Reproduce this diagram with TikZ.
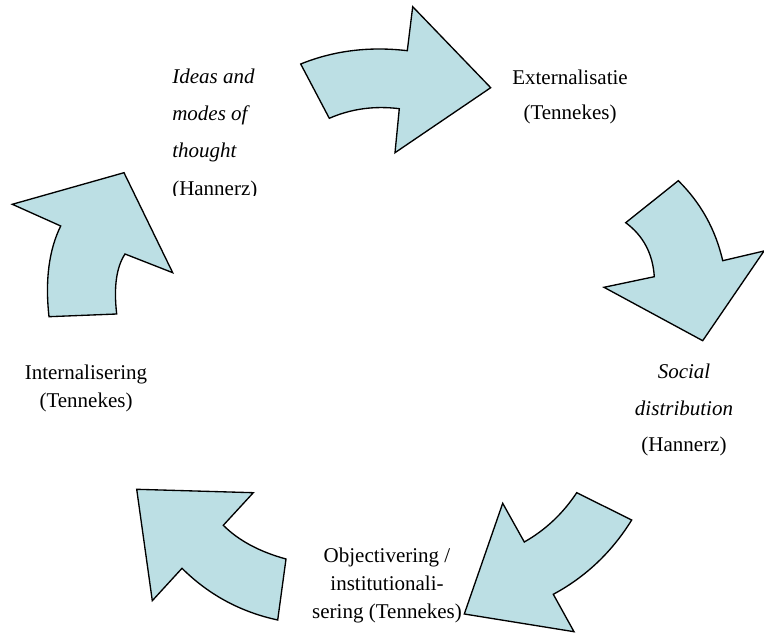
\documentclass[tikz,border=0pt]{standalone}
\usepackage{fontspec}
\setmainfont{Liberation Serif}
\definecolor{arrowfill}{RGB}{188,223,228}
\begin{document}
\begin{tikzpicture}[x=0.75pt,y=-0.75pt,
  blockarrow/.style={draw=black,fill=arrowfill,line width=1pt,line join=miter},
  lbl/.style={inner sep=0pt,align=center},
  f1/.style={font=\fontsize{15.75}{26.25}\selectfont},
  f2/.style={font=\fontsize{15.75}{27.5}\selectfont},
  f3/.style={font=\fontsize{15.75}{21}\selectfont},
  f4/.style={font=\fontsize{15.75}{20.5}\selectfont},
  f5/.style={font=\fontsize{15.75}{28}\selectfont}]
\useasboundingbox (0,0) rectangle (764,634);
% top arrow
\draw[blockarrow] (300.7,64) .. controls (333.6,50.7) and (369.1,46.2) .. (407.3,50.7) -- (412.7,6.7) -- (490.7,87.7)
  -- (395,152.7) -- (399.3,108.7) .. controls (374.4,105.6) and (351.1,108.8) .. (329.3,118.3) -- cycle;
% right arrow
\draw[blockarrow] (625.7,222.7) -- (678.3,180.7) .. controls (700.8,202.9) and (715.6,229.6) .. (722.7,260.7)
  -- (764,251) -- (702.7,340.7) -- (604,287.3) -- (654.3,276.7) .. controls (652.8,253.6) and (643.2,235.6) .. cycle;
% bottom-right arrow
\draw[blockarrow] (576.7,492.7) -- (631.7,520) .. controls (611.9,552) and (585.8,576.8) .. (553.3,594.3)
  -- (574,631.7) -- (464.3,614) -- (502.7,503.3) -- (524.3,542) .. controls (545.4,530) and (562.9,513.6) .. cycle;
% bottom-left arrow
\draw[blockarrow] (136.7,489.3) -- (253.3,492.7) -- (223.3,525.3) .. controls (238.4,540.4) and (259.3,551.7) .. (286,559)
  -- (277.7,620) .. controls (240.6,612) and (208.7,594.8) .. (182,568.3) -- (152.3,600.7) -- cycle;
% left arrow
\draw[blockarrow] (49,316.7) -- (116.7,314) .. controls (113.6,287.3) and (116.3,267.3) .. (125,254) -- (172.7,272.7)
  -- (124,172.7) -- (12.3,204.3) -- (60.7,226) .. controls (48.9,250) and (45,280.2) .. cycle;
% labels
\node[lbl,f1] (ext) at (570,96.5) {Externalisatie\\(Tennekes)};
\node[lbl,f2] (soc) at (684,410) {\textit{Social}\\\textit{distribution}\\(Hannerz)};
\node[lbl,f3] (obj) at (387,585) {Objectivering /\\institutionali-\\sering (Tennekes)};
\node[lbl,f4] (int) at (86,388.5) {Internalisering\\(Tennekes)};
\begin{scope}
\clip (150,40) rectangle (290,196);
\node[lbl,f5,align=left,anchor=west] (ide) at (172,134) {\textit{Ideas and}\\\textit{modes of}\\\textit{thought}\\(Hannerz)};
\end{scope}
\end{tikzpicture}
\end{document}
